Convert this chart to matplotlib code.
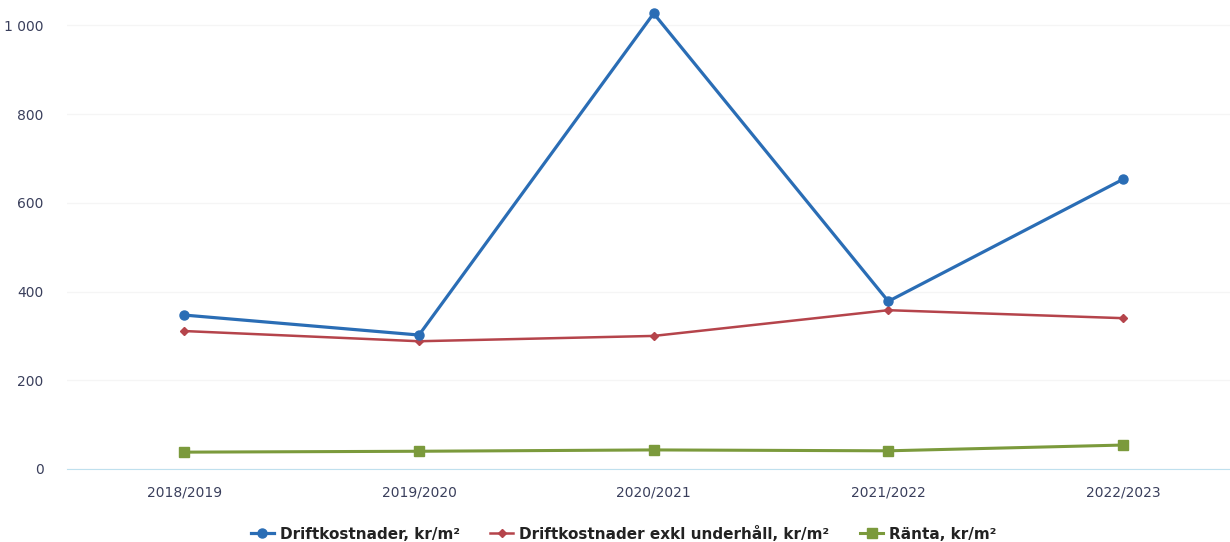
import matplotlib
matplotlib.use("Agg")
import matplotlib.pyplot as plt
from matplotlib.ticker import FuncFormatter

# data
years = ["2018/2019", "2019/2020", "2020/2021", "2021/2022", "2022/2023"]
drift = [347, 302, 1027, 378, 653]
drift_exkl = [311, 288, 300, 358, 340]
ranta = [38, 40, 43, 41, 54]

blue = "#2a6db5"
red = "#b5444b"
green = "#7b9a3c"
label_col = "#3a3f5c"

fig = plt.figure(figsize=(12.3, 5.42), dpi=100)
ax = fig.add_axes([67 / 1230, 1 - 469 / 542, 1 - 67 / 1230, 468 / 542])

x = range(len(years))
ax.plot(x, drift, color=blue, lw=2.3, marker="o", ms=6.5, label="Driftkostnader, kr/m²", zorder=4)
ax.plot(x, drift_exkl, color=red, lw=1.8, marker="D", ms=4.5, label="Driftkostnader exkl underhåll, kr/m²", zorder=3)
ax.plot(x, ranta, color=green, lw=2.2, marker="s", ms=6.5, label="Ränta, kr/m²", zorder=3)

ax.set_xlim(-0.5, 4.456)
ax.set_ylim(0, 1055)
ax.set_yticks([0, 200, 400, 600, 800, 1000])
ax.yaxis.set_major_formatter(FuncFormatter(lambda v, p: f"{int(v):,}".replace(",", " ")))
ax.set_xticks(list(x))
ax.set_xticklabels(years)

ax.grid(axis="y", color="#f5f5f5", lw=1)
ax.set_axisbelow(True)
for s in ["top", "right", "left"]:
    ax.spines[s].set_visible(False)
ax.spines["bottom"].set_color("#bfe0ee")
ax.tick_params(axis="both", length=0, colors=label_col, labelsize=10)
ax.tick_params(axis="y", pad=17)
ax.tick_params(axis="x", pad=12)

leg = fig.legend(loc="lower center", bbox_to_anchor=(0.507, -0.025), ncol=3, frameon=False,
                 prop={"weight": "bold", "size": 11}, handlelength=1.5, columnspacing=2.0,
                 handletextpad=0.4)
for t in leg.get_texts():
    t.set_color("#222222")

fig.savefig("out.png", dpi=100)
